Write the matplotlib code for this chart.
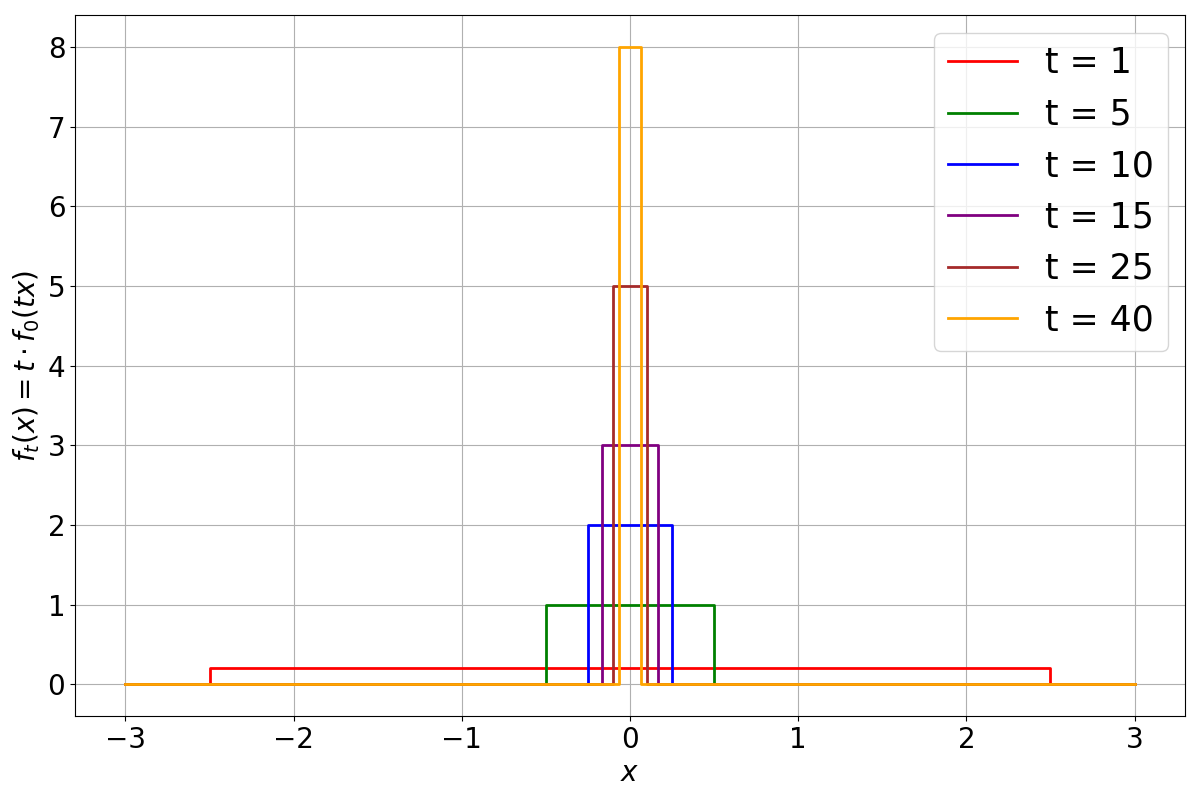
import matplotlib
matplotlib.use("Agg")
import matplotlib.pyplot as plt
import numpy as np

# --- rectangles f_t(x) = t * f0(t x), f0 = 0.2 on [-2.5, 2.5]
t_values = [1, 5, 10, 15, 25, 40]
heights = [0.2, 1.0, 2.0, 3.0, 5.0, 8.0]
half_widths = [2.5, 0.5, 0.25, 0.1667, 0.1, 0.0625]
colors = ['red', 'green', 'blue', 'purple', 'brown', 'orange']
x_min, x_max = -3, 3

fig, ax = plt.subplots(figsize=(12, 8), dpi=100)

for t, h, w, c in zip(t_values, heights, half_widths, colors):
    xs = [x_min, -w, -w, w, w, x_max]
    ys = [0, 0, h, h, 0, 0]
    ax.plot(xs, ys, color=c, linewidth=2, label='t = %d' % t)

ax.set_xlabel('$x$', fontsize=20)
ax.set_ylabel(r'$f_t(x) = t \cdot f_0(tx)$', fontsize=20)
ax.tick_params(labelsize=20)
ax.set_ylim(-0.4, 8.4)
ax.grid(True)
ax.legend(fontsize=25, loc='upper right')

fig.subplots_adjust(left=0.0625, right=0.9875, top=0.981, bottom=0.105)
plt.savefig('out.png')
